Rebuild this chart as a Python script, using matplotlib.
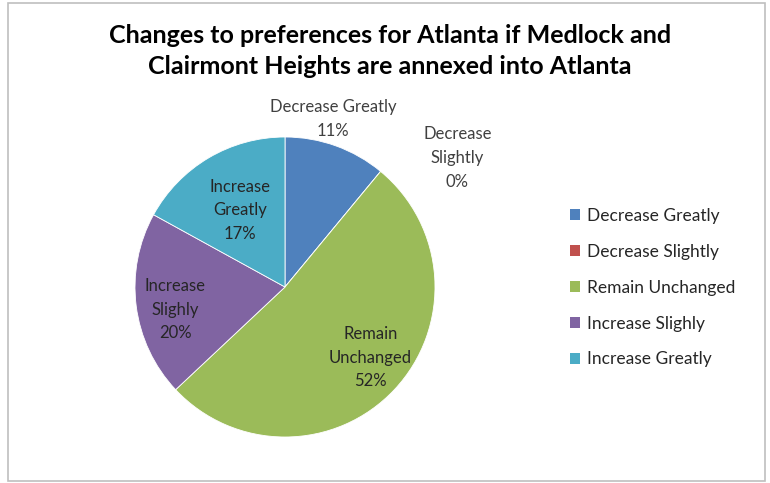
import matplotlib.pyplot as plt
from matplotlib.patches import Patch, Rectangle

categories = ['Decrease Greatly', 'Decrease Slightly', 'Remain Unchanged',
              'Increase Slighly', 'Increase Greatly']
percent = [11, 0, 52, 20, 17]
colors = ['#4F81BD', '#C0504D', '#9BBB59', '#8064A2', '#4BACC6']

# label placement (data coords, pie radius = 1)
label_pos = [(0.32, 1.12), (1.15, 0.86), (0.57, -0.47), (-0.73, -0.15), (-0.30, 0.51)]
label_text = ['Decrease Greatly\n11%', 'Decrease\nSlightly\n0%', 'Remain\nUnchanged\n52%',
              'Increase\nSlighly\n20%', 'Increase\nGreatly\n17%']
label_color = ['#404040', '#404040', '#262626', '#262626', '#262626']

plt.rcParams['font.family'] = ['Lato', 'DejaVu Sans']

fig = plt.figure(figsize=(7.7, 4.83), dpi=100)

# outer chart frame
fig.patches.append(Rectangle((8 / 770, 2 / 483), 757 / 770, 478 / 483, transform=fig.transFigure,
                             fill=False, edgecolor='#BFBFBF', linewidth=1.2))

ax = fig.add_axes([135 / 770, 46 / 483, 300 / 770, 300 / 483])
wedges, _ = ax.pie(percent, colors=colors, startangle=90, counterclock=False,
                   radius=1, wedgeprops=dict(linewidth=0.6, edgecolor='white'))
ax.set_xlim(-1, 1)
ax.set_ylim(-1, 1)
ax.set_aspect('equal')
ax.axis('off')

for (x, y), t, c in zip(label_pos, label_text, label_color):
    ax.text(x, y, t, ha='center', va='center', fontsize=12, color=c,
            linespacing=1.58, clip_on=False)

fig.text(390 / 770, 1 - 51 / 483, 'Changes to preferences for Atlanta if Medlock and\n'
         'Clairmont Heights are annexed into Atlanta',
         ha='center', va='center', fontsize=18, fontweight='bold', color='#000000',
         linespacing=1.4)

handles = [Patch(facecolor=c, edgecolor='none') for c in colors]
fig.legend(handles, categories, loc='upper left', bbox_to_anchor=(554 / 770, 1 - 192 / 483),
           frameon=False, fontsize=12.5, labelcolor='#262626', handlelength=0.6, handleheight=0.6,
           handletextpad=0.4, labelspacing=1.15)

fig.savefig('out.png', dpi=100)
